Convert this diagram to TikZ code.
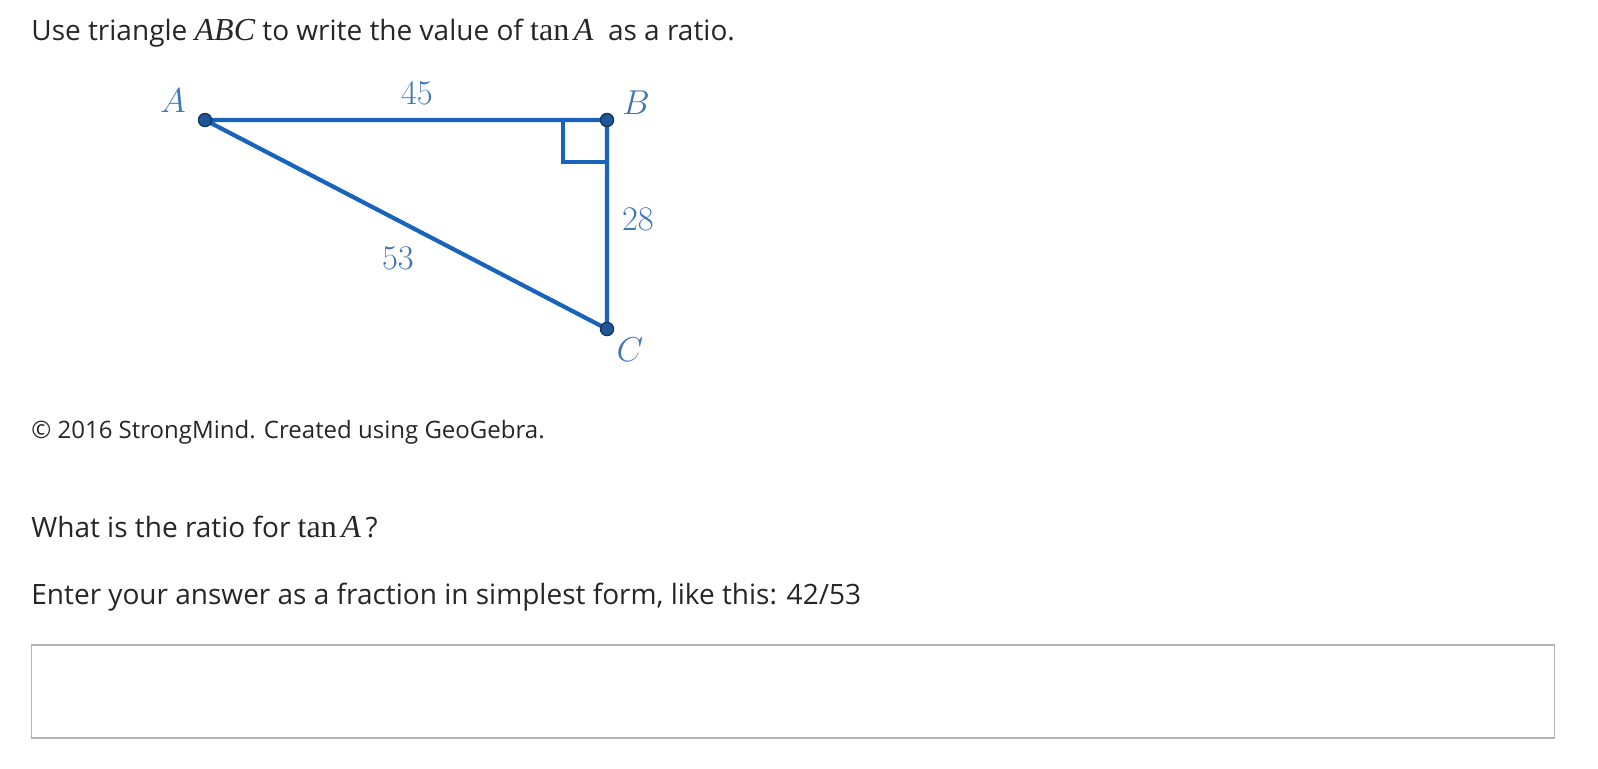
\documentclass[tikz,border=0pt]{standalone}
\usepackage{fontspec}
\setmainfont{Open Sans}
\newfontfamily\mathserif{Liberation Serif}
\usetikzlibrary{positioning}

\definecolor{geoblue}{RGB}{24,100,188}
\definecolor{geolabel}{RGB}{62,118,186}
\definecolor{geodot}{RGB}{32,86,150}
\definecolor{boxgrey}{RGB}{180,180,180}

\newcommand{\mvar}[1]{{\fontsize{16}{17}\mathserif\itshape #1}}
\newcommand{\mtan}{{\fontsize{16}{17}\mathserif tan}}

\begin{document}
\begin{tikzpicture}[x=0.5pt, y=-0.5pt,
	txt/.style={anchor=base west, inner sep=0pt, text=black!85, font=\fontsize{14}{17}\selectfont},
	lbl/.style={inner sep=0pt, text=geolabel, font=\fontsize{18}{21}\selectfont},
	side/.style={geoblue, line width=2.1pt},
	dot/.style={fill=geodot, draw=geodot!60!black, line width=0.6pt}]
\useasboundingbox (0,0) rectangle (1598,768);

\node[txt] (ask) at (31,40) {Use triangle \mvar{ABC} to write the value of \mtan\,\mvar{A}\ \ as a ratio.};

\coordinate (A) at (205,120);
\coordinate (B) at (607,120);
\coordinate (C) at (607,329);

\draw[side, line width=1.7pt] (B) ++(-44,0) -- ++(0,42) -- ++(44,0);
\draw[side, line join=round] (A) -- (B) -- (C) -- cycle;

\fill[dot] (A) circle (6.5);
\fill[dot] (B) circle (6.5);
\fill[dot] (C) circle (6.5);
\draw[dot] (A) circle (6.5);
\draw[dot] (B) circle (6.5);
\draw[dot] (C) circle (6.5);

\node[lbl] (labA) at (173,101) {$A$};
\node[lbl] (labB) at (636,103) {$B$};
\node[lbl] (labC) at (630,350) {$C$};
\node[lbl] (lab45) at (417,93) {$45$};
\node[lbl] (lab28) at (638,219) {$28$};
\node[lbl] (lab53) at (398,258) {$53$};

\node[txt, font=\fontsize{12}{15}\selectfont] (copy) at (31,438) {© 2016 StrongMind. Created using GeoGebra.};

\node[txt] (what) at (31,537) {What is the ratio for \mtan\,\mvar{A}\,?};
\node[txt] (enter) at (31,604) {Enter your answer as a fraction in simplest form, like this: 42/53};

\node[draw=boxgrey, line width=0.6pt, minimum width=761.5pt, minimum height=46pt, inner sep=0pt, anchor=north west] (answer) at (31,645) {};
\draw[boxgrey, line width=1.2pt] (answer.north west) -- (answer.north east);
\draw[boxgrey, line width=1.2pt] (answer.south west) -- (answer.south east);
\end{tikzpicture}
\end{document}
